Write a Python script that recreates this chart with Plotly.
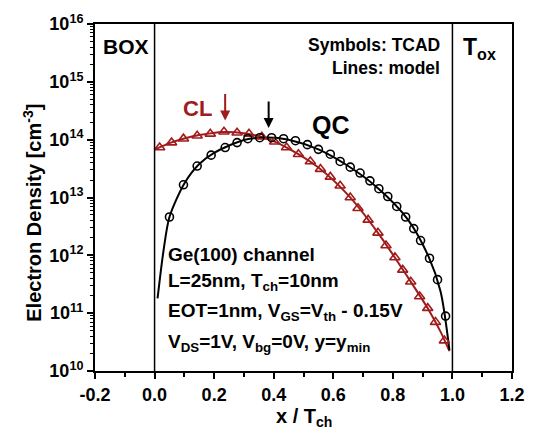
import plotly.graph_objects as go

# TCAD symbols (x / Tch, electron density cm^-3)
qc_sym_x = [0.050, 0.097, 0.143, 0.190, 0.237, 0.277, 0.313, 0.353, 0.393, 0.433,
            0.473, 0.513, 0.550, 0.590, 0.623, 0.657, 0.690, 0.723, 0.753, 0.783,
            0.813, 0.843, 0.870, 0.893, 0.923, 0.950, 0.977]
qc_sym_n = [4.6e12, 1.66e13, 3.5e13, 5.4e13, 7.3e13, 8.9e13, 1.04e14, 1.08e14, 1.08e14, 1.04e14,
            9.6e13, 8.2e13, 6.8e13, 5.6e13, 4.2e13, 3.35e13, 2.65e13, 1.94e13, 1.42e13, 1.04e13,
            7.0e12, 4.6e12, 2.9e12, 1.8e12, 8.9e11, 3.8e11, 8.9e10]

cl_sym_x = [0.017, 0.057, 0.097, 0.143, 0.187, 0.233, 0.277, 0.317, 0.360, 0.403,
            0.443, 0.483, 0.523, 0.557, 0.590, 0.623, 0.657, 0.683, 0.717, 0.750,
            0.777, 0.807, 0.833, 0.860, 0.890, 0.917, 0.943, 0.973]
cl_sym_n = [7.3e13, 8.9e13, 1.04e14, 1.17e14, 1.26e14, 1.37e14, 1.32e14, 1.26e14, 1.12e14, 9.2e13,
            7.3e13, 5.6e13, 4.2e13, 3.1e13, 2.27e13, 1.6e13, 1.0e13, 6.5e12, 4.1e12, 2.45e12,
            1.48e12, 9.2e11, 5.6e11, 3.5e11, 1.94e11, 1.22e11, 7.0e10, 3.35e10]

# Model lines
qc_line_x = [0.01, 0.03, 0.05, 0.1, 0.15, 0.2, 0.3, 0.38, 0.45, 0.55, 0.65, 0.75, 0.85, 0.92, 0.96, 0.99]
qc_line_n = [1.8e11, 1.2e12, 4.6e12, 1.75e13, 3.8e13, 5.9e13, 9.9e13, 1.09e14, 1.0e14, 6.8e13,
             3.5e13, 1.45e13, 4.2e12, 9.5e11, 2.4e11, 2.3e10]
cl_line_x = [0.005, 0.05, 0.1, 0.15, 0.23, 0.3, 0.38, 0.45, 0.55, 0.65, 0.75, 0.85, 0.92, 0.96, 0.99]
cl_line_n = [6.9e13, 8.7e13, 1.05e14, 1.2e14, 1.36e14, 1.29e14, 1.03e14, 7.0e13, 3.3e13, 1.1e13,
             2.45e12, 4.2e11, 1.15e11, 4.8e10, 2.2e10]

x_ticks = [-0.2, 0.0, 0.2, 0.4, 0.6, 0.8, 1.0, 1.2]
y_exps = [10, 11, 12, 13, 14, 15, 16]

RED = "#a01c1c"
FONT = "Liberation Sans, Arial, sans-serif"

fig = go.Figure()
fig.add_trace(go.Scatter(x=cl_line_x, y=cl_line_n, mode="lines",
                         line=dict(color=RED, width=2, shape="spline", smoothing=0.8),
                         showlegend=False, hoverinfo="skip"))
fig.add_trace(go.Scatter(x=qc_line_x, y=qc_line_n, mode="lines",
                         line=dict(color="black", width=2, shape="spline", smoothing=0.8),
                         showlegend=False, hoverinfo="skip"))
fig.add_trace(go.Scatter(x=cl_sym_x, y=cl_sym_n, mode="markers",
                         marker=dict(symbol="triangle-up-open", size=9, color=RED,
                                     line=dict(width=1.6, color=RED)),
                         showlegend=False))
fig.add_trace(go.Scatter(x=qc_sym_x, y=qc_sym_n, mode="markers",
                         marker=dict(symbol="circle-open", size=8, color="black",
                                     line=dict(width=1.6, color="black")),
                         showlegend=False))

# interface lines
for xv in [0.0, 1.0]:
    fig.add_shape(type="line", xref="x", yref="paper", x0=xv, x1=xv, y0=0, y1=1,
                  line=dict(color="black", width=1.5))

minor_y = [m * 10.0 ** e for e in range(10, 16) for m in range(2, 10)]

fig.update_xaxes(range=[-0.2, 1.2], tickvals=x_ticks, ticktext=[f"{v:.1f}" for v in x_ticks],
                 showline=True, linewidth=2, linecolor="black", mirror=True,
                 ticks="outside", ticklen=6, tickwidth=2, tickcolor="black",
                 tickfont=dict(family=FONT, size=18, color="black", weight="bold"),
                 showgrid=False, zeroline=False,
                 minor=dict(tickvals=[-0.1, 0.1, 0.3, 0.5, 0.7, 0.9, 1.1], ticks="outside",
                            ticklen=4, tickwidth=1.5, tickcolor="black", showgrid=False))
fig.update_yaxes(type="log", range=[10, 16], tickvals=[10.0 ** e for e in y_exps],
                 ticktext=[f"10<sup>{e}</sup>" for e in y_exps],
                 showline=True, linewidth=2, linecolor="black", mirror=True,
                 ticks="outside", ticklen=6, tickwidth=2, tickcolor="black",
                 tickfont=dict(family=FONT, size=18, color="black", weight="bold"),
                 showgrid=False, zeroline=False,
                 minor=dict(tickvals=minor_y, ticks="outside", ticklen=3, tickwidth=1,
                            tickcolor="black", showgrid=False))

anns = []
def txt(x, y, text, size, color="black", xanchor="center", xref="x", yref="y"):
    anns.append(dict(x=x, y=y, xref=xref, yref=yref, text=text, showarrow=False,
                     xanchor=xanchor, yanchor="middle",
                     font=dict(family=FONT, size=size, color=color, weight="bold")))

txt(-0.097, 15.61, "BOX", 21)
txt(1.09, 15.58, "T<sub>ox</sub>", 23)
txt(0.965, 15.63, "Symbols: TCAD", 17.5, xanchor="right")
txt(0.965, 15.24, "Lines: model", 17.5, xanchor="right")
txt(0.143, 14.54, "CL", 22, color=RED)
txt(0.593, 14.25, "QC", 25)
txt(0.04, 12.02, "Ge(100) channel", 19, xanchor="left")
txt(0.04, 11.54, "L=25nm, T<sub>ch</sub>=10nm", 19, xanchor="left")
txt(0.04, 11.02, "EOT=1nm, V<sub>GS</sub>=V<sub>th</sub> - 0.15V", 19, xanchor="left")
txt(0.04, 10.49, "V<sub>DS</sub>=1V, V<sub>bg</sub>=0V, y=y<sub>min</sub>", 19, xanchor="left")

# arrows
anns.append(dict(x=0.237, y=14.33, xref="x", yref="y", text="", showarrow=True,
                 ax=0, ay=-28, arrowhead=2, arrowsize=1, arrowwidth=2, arrowcolor=RED))
anns.append(dict(x=0.383, y=14.20, xref="x", yref="y", text="", showarrow=True,
                 ax=0, ay=-28, arrowhead=2, arrowsize=1, arrowwidth=2, arrowcolor="black"))

# axis titles
anns.append(dict(x=-0.152, y=0.455, xref="paper", yref="paper", showarrow=False,
                 text="Electron Density [cm<sup>-3</sup>]", textangle=-90,
                 xanchor="center", yanchor="middle",
                 font=dict(family=FONT, size=20, color="black", weight="bold")))
anns.append(dict(x=0.5, y=-0.135, xref="paper", yref="paper", showarrow=False,
                 text="x / T<sub>ch</sub>", xanchor="center", yanchor="middle",
                 font=dict(family=FONT, size=20, color="black", weight="bold")))

fig.update_layout(width=537, height=436, margin=dict(l=95, r=22, t=17, b=65),
                  plot_bgcolor="white", paper_bgcolor="white", annotations=anns,
                  showlegend=False)

fig.write_html("out.html")
